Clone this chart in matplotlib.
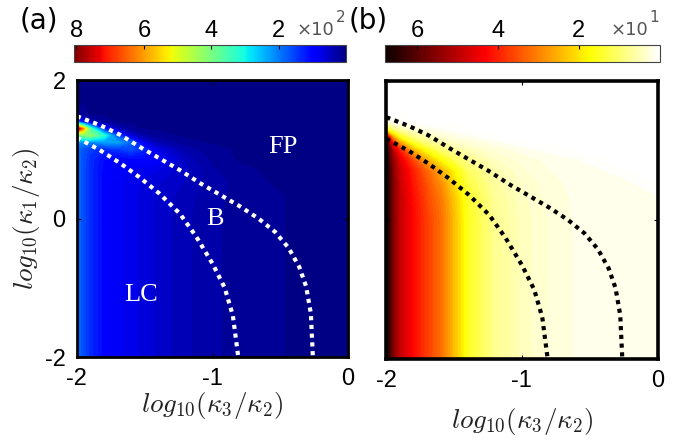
import matplotlib
matplotlib.use("Agg")
import matplotlib.pyplot as plt
import numpy as np

plt.rcParams['font.family'] = ['Liberation Sans', 'DejaVu Sans']
plt.rcParams['mathtext.fontset'] = 'cm'

x_nodes = [-2.0, -1.95, -1.9, -1.8, -1.7, -1.6, -1.5, -1.4, -1.2, -1.0, -0.8, -0.6, -0.4, -0.2, 0.0]
y_nodes = [-2.0, -1.0, 0.0, 0.3, 0.5, 0.7, 0.85, 1.0, 1.1, 1.2, 1.3, 1.4, 1.5, 1.7, 2.0]

# panel (a), units of 10^2
field_a = [
    [1.9, 1.6, 1.35, 1.0, 0.85, 0.75, 0.65, 0.55, 0.38, 0.25, 0.2, 0.15, 0.1, 0.1, 0.1],
    [1.9, 1.6, 1.35, 1.0, 0.85, 0.75, 0.65, 0.55, 0.38, 0.25, 0.2, 0.15, 0.1, 0.1, 0.1],
    [1.9, 1.6, 1.35, 1.0, 0.85, 0.75, 0.65, 0.55, 0.38, 0.25, 0.2, 0.15, 0.1, 0.1, 0.1],
    [1.9, 1.6, 1.35, 1.0, 0.85, 0.75, 0.65, 0.55, 0.4, 0.26, 0.2, 0.15, 0.1, 0.1, 0.1],
    [1.9, 1.6, 1.35, 1.0, 0.85, 0.75, 0.66, 0.58, 0.45, 0.28, 0.2, 0.12, 0.1, 0.1, 0.1],
    [1.9, 1.6, 1.35, 1.0, 0.87, 0.8, 0.75, 0.7, 0.5, 0.25, 0.15, 0.1, 0.1, 0.1, 0.1],
    [1.9, 1.6, 1.35, 1.05, 0.95, 0.95, 1.0, 0.9, 0.45, 0.2, 0.1, 0.1, 0.1, 0.1, 0.1],
    [1.9, 1.65, 1.45, 1.3, 1.4, 1.6, 1.3, 0.7, 0.3, 0.15, 0.1, 0.1, 0.1, 0.1, 0.1],
    [2.2, 2.0, 2.0, 2.2, 2.3, 1.8, 0.7, 0.35, 0.15, 0.1, 0.1, 0.1, 0.1, 0.1, 0.1],
    [3.5, 4.0, 4.2, 3.2, 1.6, 0.6, 0.25, 0.15, 0.1, 0.1, 0.1, 0.1, 0.1, 0.1, 0.1],
    [8.0, 6.0, 3.5, 1.2, 0.4, 0.15, 0.1, 0.1, 0.1, 0.1, 0.1, 0.1, 0.1, 0.1, 0.1],
    [1.8, 0.8, 0.4, 0.2, 0.1, 0.1, 0.1, 0.1, 0.1, 0.1, 0.1, 0.1, 0.1, 0.1, 0.1],
    [0.3, 0.15, 0.1, 0.1, 0.1, 0.1, 0.1, 0.1, 0.1, 0.1, 0.1, 0.1, 0.1, 0.1, 0.1],
    [0.1, 0.1, 0.1, 0.1, 0.1, 0.1, 0.1, 0.1, 0.1, 0.1, 0.1, 0.1, 0.1, 0.1, 0.1],
    [0.1, 0.1, 0.1, 0.1, 0.1, 0.1, 0.1, 0.1, 0.1, 0.1, 0.1, 0.1, 0.1, 0.1, 0.1],
]

# panel (b), units of 10^1
field_b = [
    [6.8, 5.6, 4.9, 4.25, 3.7, 3.2, 2.4, 1.5, 0.75, 0.45, 0.28, 0.18, 0.14, 0.12, 0.12],
    [6.8, 5.6, 4.9, 4.25, 3.7, 3.2, 2.4, 1.5, 0.75, 0.45, 0.28, 0.18, 0.14, 0.12, 0.12],
    [6.8, 5.6, 4.9, 4.25, 3.7, 3.2, 2.4, 1.5, 0.75, 0.45, 0.28, 0.18, 0.14, 0.12, 0.12],
    [6.8, 5.6, 4.9, 4.2, 3.6, 3.1, 2.3, 1.45, 0.72, 0.42, 0.26, 0.17, 0.13, 0.12, 0.11],
    [6.8, 5.6, 4.85, 4.1, 3.5, 2.9, 2.1, 1.3, 0.65, 0.38, 0.24, 0.16, 0.13, 0.12, 0.0],
    [6.8, 5.5, 4.8, 4.0, 3.3, 2.6, 1.8, 1.1, 0.55, 0.32, 0.2, 0.15, 0.1, 0.0, 0.0],
    [6.7, 5.4, 4.6, 3.6, 2.6, 1.8, 1.2, 0.8, 0.42, 0.25, 0.17, 0.11, 0.0, 0.0, 0.0],
    [6.6, 5.0, 4.0, 2.5, 1.6, 1.0, 0.7, 0.5, 0.28, 0.15, 0.06, 0.0, 0.0, 0.0, 0.0],
    [6.3, 4.2, 2.8, 1.5, 0.9, 0.6, 0.4, 0.3, 0.15, 0.0, 0.0, 0.0, 0.0, 0.0, 0.0],
    [5.0, 2.5, 1.5, 0.8, 0.5, 0.3, 0.18, 0.11, 0.0, 0.0, 0.0, 0.0, 0.0, 0.0, 0.0],
    [1.5, 0.9, 0.6, 0.3, 0.15, 0.1, 0.05, 0.0, 0.0, 0.0, 0.0, 0.0, 0.0, 0.0, 0.0],
    [0.3, 0.12, 0.05, 0.0, 0.0, 0.0, 0.0, 0.0, 0.0, 0.0, 0.0, 0.0, 0.0, 0.0, 0.0],
    [0.0, 0.0, 0.0, 0.0, 0.0, 0.0, 0.0, 0.0, 0.0, 0.0, 0.0, 0.0, 0.0, 0.0, 0.0],
    [0.0, 0.0, 0.0, 0.0, 0.0, 0.0, 0.0, 0.0, 0.0, 0.0, 0.0, 0.0, 0.0, 0.0, 0.0],
    [0.0, 0.0, 0.0, 0.0, 0.0, 0.0, 0.0, 0.0, 0.0, 0.0, 0.0, 0.0, 0.0, 0.0, 0.0],
]

# boundary curves
inner_x = [-2.0, -1.83, -1.68, -1.54, -1.39, -1.24, -1.12, -1.00, -0.91, -0.85, -0.81]
inner_y = [1.17, 0.99, 0.80, 0.60, 0.36, 0.07, -0.26, -0.65, -1.0, -1.4, -2.0]
outer_x = [-2.0, -1.83, -1.68, -1.54, -1.39, -1.24, -1.09, -0.94, -0.80, -0.66,
           -0.54, -0.44, -0.36, -0.31, -0.275, -0.26]
outer_y = [1.48, 1.35, 1.21, 1.04, 0.87, 0.70, 0.51, 0.34, 0.18, 0.0,
           -0.19, -0.42, -0.70, -0.98, -1.37, -2.0]

vmax_a = 8.07
vmax_b = 6.8
cbar_ticks_a = [8, 6, 4, 2]
cbar_ticks_b = [6, 4, 2]


def draw_panel(fig, ax_rect, cax_rect, field, cmap, vmax, ticks, line_color,
               spine_w, exponent):
    ax = fig.add_axes(ax_rect)
    ax.contourf(x_nodes, y_nodes, np.array(field), levels=np.linspace(0, vmax, 70),
                cmap=cmap, extend='both')
    for xs, ys in [(inner_x, inner_y), (outer_x, outer_y)]:
        ax.plot(xs, ys, color=line_color, lw=3, linestyle=(0, (1, 1.1)),
                dash_capstyle='butt')
    ax.set_xlim(-2, 0)
    ax.set_ylim(-2, 2)
    ax.set_xticks([-2, -1, 0])
    ax.set_xticklabels(['-2', '-1', '0'])
    ax.set_yticks([-2, 0, 2])
    ax.set_yticklabels(['-2', '0', '2'])
    ax.tick_params(direction='in', length=3, width=0.8, labelsize=17, pad=8,
                   top=True, right=True)
    for sp in ax.spines.values():
        sp.set_linewidth(spine_w)
    ax.set_xlabel(r'$log_{10}(\kappa_3/\kappa_2)$', fontsize=19.5, color='#222222')

    cax = fig.add_axes(cax_rect)
    sm = plt.cm.ScalarMappable(norm=plt.Normalize(0, vmax), cmap=cmap)
    cb = fig.colorbar(sm, cax=cax, orientation='horizontal')
    cax.invert_xaxis()
    cb.set_ticks(ticks)
    cb.set_ticklabels([str(t) for t in ticks])
    cax.xaxis.set_ticks_position('top')
    cax.xaxis.set_label_position('top')
    cax.tick_params(direction='in', length=3, width=0.8, labelsize=17, pad=2)
    cb.outline.set_linewidth(0.8)
    cb.outline.set_edgecolor('#444444')
    right = cax_rect[0] + cax_rect[2]
    fig.text(right - 0.017, 0.921, '\u00d710', ha='right', va='baseline',
             fontsize=13, color='#555555', family='DejaVu Sans')
    fig.text(right - 0.015, 0.950, str(exponent), ha='left', va='baseline',
             fontsize=11, color='#555555', family='DejaVu Sans')
    return ax


fig = plt.figure(figsize=(6.8, 4.43), dpi=100)

ax_a = draw_panel(fig, [0.113, 0.194, 0.399, 0.625], [0.109, 0.860, 0.400, 0.038],
                  field_a, 'jet', vmax_a, cbar_ticks_a, 'white', 2.0, 2)
ax_a.set_ylabel(r'$log_{10}(\kappa_1/\kappa_2)$', fontsize=19.5, color='#222222')
ax_a.xaxis.labelpad = 0
ax_a.yaxis.labelpad = 2
ax_a.text(-0.48, 1.03, 'FP', color='white', fontsize=19, family='Liberation Serif',
          ha='center', va='center')
ax_a.text(-0.98, 0.0, 'B', color='white', fontsize=19, family='Liberation Serif',
          ha='center', va='center')
ax_a.text(-1.53, -1.1, 'LC', color='white', fontsize=19, family='Liberation Serif',
          ha='center', va='center')

ax_b = draw_panel(fig, [0.568, 0.190, 0.399, 0.627], [0.566, 0.860, 0.404, 0.038],
                  field_b, 'hot_r', vmax_b, cbar_ticks_b, 'black', 2.6, 1)
ax_b.set_yticklabels([])
ax_b.xaxis.labelpad = 10

fig.text(0.029, 0.922, '(a)', ha='left', va='bottom', fontsize=20, family='DejaVu Sans')
fig.text(0.512, 0.922, '(b)', ha='left', va='bottom', fontsize=20, family='DejaVu Sans')

plt.savefig('out.png', dpi=100)
